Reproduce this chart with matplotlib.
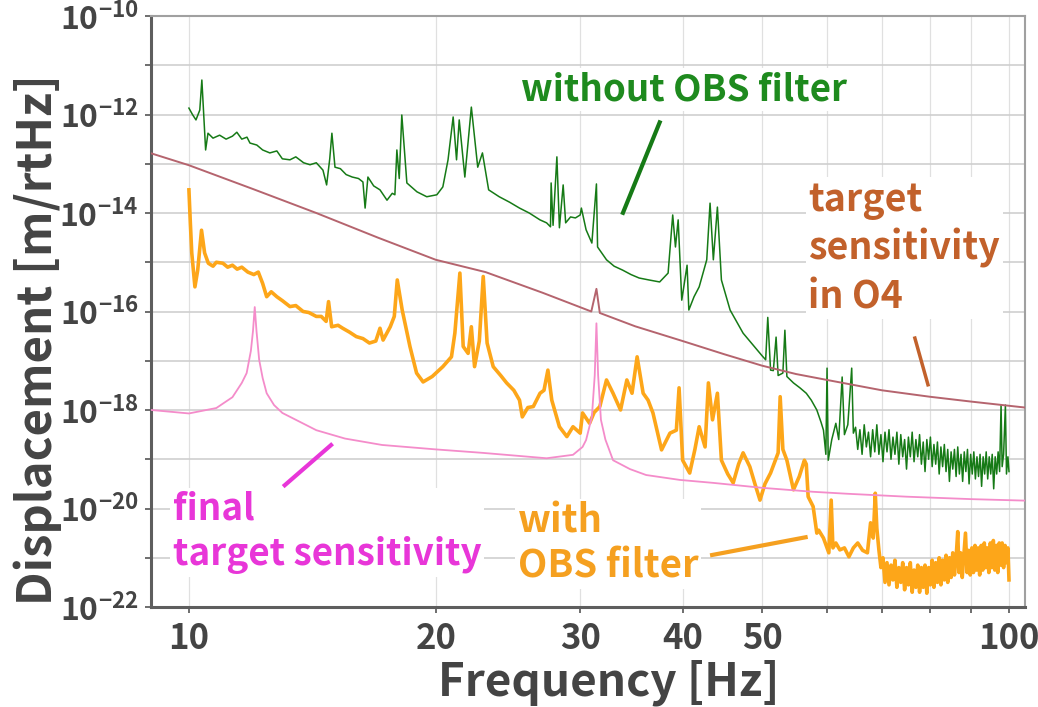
import numpy as np
import matplotlib
matplotlib.use("Agg")
import matplotlib.pyplot as plt
from matplotlib.ticker import FixedLocator, FuncFormatter, NullLocator

plt.rcParams['font.family'] = ['Noto Sans CJK JP', 'DejaVu Sans']
plt.rcParams['mathtext.fontset'] = 'custom'
plt.rcParams['mathtext.rm'] = 'Noto Sans CJK JP'
plt.rcParams['mathtext.bf'] = 'Noto Sans CJK JP:bold'
plt.rcParams['axes.unicode_minus'] = False

# (frequency [Hz], log10 displacement [m/rtHz])
without_obs = [
    (10.0, -11.87), (10.1, -12.0), (10.2, -12.11), (10.31, -11.91), (10.37, -11.30),
    (10.48, -12.72), (10.55, -12.38), (10.7, -12.48), (10.9, -12.42), (11.1, -12.5),
    (11.3, -12.44), (11.44, -12.36), (11.6, -12.5), (11.77, -12.46), (11.87, -12.58),
    (12.1, -12.62), (12.3, -12.72), (12.55, -12.78), (12.8, -12.74), (13.0, -12.9),
    (13.28, -12.92), (13.5, -12.86), (13.8, -12.98), (14.05, -13.02), (14.3, -12.98),
    (14.57, -13.13), (14.72, -13.43), (14.85, -12.9), (14.94, -12.38), (15.07, -13.07),
    (15.3, -13.1), (15.55, -13.22), (15.82, -13.27), (16.1, -13.3), (16.3, -13.37),
    (16.4, -13.9), (16.53, -13.27), (16.8, -13.45), (17.1, -13.53), (17.44, -13.74),
    (17.7, -13.6), (17.83, -13.63), (17.93, -12.72), (18.05, -13.3), (18.18, -12.01),
    (18.44, -13.39), (18.97, -13.57), (19.5, -13.67), (20.06, -13.63), (20.4, -13.47),
    (20.7, -12.92), (21.0, -12.05), (21.2, -12.92), (21.36, -12.11), (21.7, -13.27),
    (22.1, -11.85), (22.5, -13.07), (22.8, -12.78), (23.2, -13.53), (23.9, -13.67),
    (24.6, -13.78), (25.3, -13.9), (26.0, -14.0), (26.8, -14.14), (27.3, -14.2),
    (27.6, -14.28), (27.65, -13.39), (27.8, -14.25), (28.1, -12.86), (28.3, -14.3),
    (28.6, -13.43), (28.8, -14.2), (29.2, -14.08), (29.6, -14.1), (30.0, -14.04),
    (30.1, -13.9), (30.5, -14.34), (31.0, -14.61), (31.4, -13.41), (31.5, -14.69),
    (32.3, -14.95), (33.0, -15.08), (33.8, -15.16), (34.6, -15.25), (35.4, -15.32),
    (36.4, -15.36), (37.5, -15.4), (38.4, -15.22), (38.9, -14.04), (39.2, -14.69),
    (39.5, -14.14), (39.9, -15.77), (40.5, -15.06), (40.7, -15.97), (41.3, -15.7),
    (41.9, -15.5), (42.8, -14.95), (43.2, -13.8), (43.6, -14.95), (44.1, -13.88),
    (44.6, -15.36), (45.7, -15.97), (47.4, -16.44), (49.3, -16.78), (50.0, -16.9),
    (50.5, -16.98), (50.8, -16.12), (51.2, -17.19), (51.6, -17.2), (52.0, -16.52),
    (52.3, -17.3), (53.0, -17.25), (53.3, -16.38), (53.6, -17.32), (54.6, -17.45),
    (55.6, -17.55), (56.6, -17.66), (57.4, -17.8), (58.3, -18.0), (59.0, -18.25),
    (59.4, -18.41), (59.8, -18.9), (60.0, -17.15), (60.2, -19.02), (60.8, -18.6),
    (61.5, -18.27), (62.0, -18.6), (62.6, -17.33), (63.0, -18.5), (63.6, -18.3),
    (64.3, -17.15), (64.6, -18.47), (65.0, -18.35), (65.4, -18.8), (65.8, -18.4),
    (66.2, -18.9), (66.6, -18.3), (67.0, -18.75), (67.4, -18.45), (67.8, -18.95),
    (68.2, -18.4), (68.6, -18.85), (69.0, -18.3), (69.4, -18.9), (69.8, -18.5),
    (70.2, -19.05), (70.6, -18.45), (71.0, -18.85), (71.4, -18.4), (71.8, -19.0),
    (72.2, -18.55), (72.6, -18.9), (73.0, -18.45), (73.4, -19.1), (73.8, -18.5),
    (74.2, -18.95), (74.6, -18.6), (75.0, -19.2), (75.4, -18.55), (75.8, -18.95),
    (76.2, -18.45), (76.6, -19.05), (77.0, -18.6), (77.4, -18.95), (77.8, -18.5),
    (78.2, -19.1), (78.6, -18.65), (79.0, -19.25), (79.4, -18.6), (79.8, -19.0),
    (80.2, -18.55), (80.6, -19.15), (81.0, -18.7), (81.4, -19.1), (81.8, -18.65),
    (82.2, -19.3), (82.6, -18.75), (83.0, -19.15), (83.4, -18.7), (83.8, -19.25),
    (84.2, -18.8), (84.6, -19.45), (85.0, -18.85), (85.4, -19.2), (85.8, -18.8),
    (86.2, -19.35), (86.6, -18.75), (87.0, -19.3), (87.4, -18.9), (87.8, -19.45),
    (88.2, -18.85), (88.6, -19.25), (89.0, -18.8), (89.4, -19.5), (89.8, -18.9),
    (90.2, -19.3), (90.6, -18.85), (91.0, -19.4), (91.4, -18.95), (91.8, -19.35),
    (92.2, -18.9), (92.6, -19.55), (93.0, -18.95), (93.4, -19.3), (93.8, -18.85),
    (94.2, -19.4), (94.6, -18.95), (95.0, -19.3), (95.4, -18.9), (95.8, -19.6),
    (96.2, -18.95), (96.6, -19.3), (97.0, -18.85), (97.4, -19.25), (97.8, -17.9),
    (98.1, -19.15), (98.5, -18.9), (99.0, -17.9), (99.3, -19.3), (99.7, -18.95),
    (100.0, -19.25),
]

with_obs = [
    (10.0, -13.53), (10.04, -14.2), (10.08, -14.81), (10.17, -15.5), (10.25, -15.16),
    (10.36, -14.35), (10.45, -14.81), (10.56, -15.02), (10.7, -15.08), (10.8, -15.0),
    (11.0, -15.02), (11.15, -15.1), (11.3, -15.06), (11.45, -15.14), (11.6, -15.1),
    (11.8, -15.2), (12.0, -15.25), (12.15, -15.2), (12.3, -15.43), (12.44, -15.7),
    (12.6, -15.6), (12.8, -15.7), (13.0, -15.78), (13.28, -15.9), (13.5, -15.88),
    (13.78, -16.0), (14.0, -16.02), (14.3, -16.1), (14.5, -16.1), (14.7, -16.2),
    (14.8, -15.8), (14.93, -16.31), (15.2, -16.28), (15.4, -16.34), (15.7, -16.42),
    (16.0, -16.51), (16.3, -16.55), (16.6, -16.64), (16.9, -16.6), (17.1, -16.34),
    (17.25, -16.58), (17.6, -16.31), (17.8, -16.1), (17.95, -15.36), (18.2, -15.97),
    (18.6, -16.71), (18.95, -17.25), (19.3, -17.43), (19.8, -17.32), (20.4, -17.12),
    (20.9, -16.92), (21.1, -16.44), (21.4, -15.22), (21.6, -16.71), (21.9, -16.85),
    (22.1, -16.31), (22.3, -17.12), (22.6, -16.6), (22.85, -15.29), (23.1, -16.64),
    (23.5, -17.12), (24.0, -17.3), (24.4, -17.45), (24.9, -17.6), (25.3, -17.8),
    (25.5, -18.14), (25.9, -17.95), (26.3, -17.93), (26.8, -17.66), (27.1, -17.6),
    (27.4, -17.19), (27.7, -17.8), (28.3, -18.34), (28.9, -18.54), (29.4, -18.34),
    (30.0, -18.47), (30.2, -18.06), (30.8, -18.27), (31.2, -18.05), (31.7, -17.93),
    (32.3, -17.39), (32.9, -17.66), (33.6, -18.0), (34.2, -17.39), (34.7, -17.66),
    (35.2, -16.92), (35.8, -17.66), (36.3, -17.8), (36.8, -18.06), (37.7, -18.81),
    (38.6, -18.47), (39.3, -18.41), (39.6, -17.55), (40.0, -19.02), (40.8, -19.28),
    (41.4, -18.8), (41.9, -18.34), (42.6, -18.75), (43.0, -17.45), (43.5, -18.2),
    (44.1, -17.66), (44.6, -19.02), (45.4, -19.3), (46.1, -19.48), (46.8, -19.1),
    (47.4, -18.87), (48.3, -19.15), (49.0, -19.5), (49.7, -19.83), (50.4, -19.5),
    (51.2, -19.28), (52.3, -18.87), (52.6, -17.73), (53.0, -18.8), (53.6, -19.02),
    (54.6, -19.62), (55.5, -19.35), (56.3, -19.02), (56.6, -19.1), (56.9, -19.76),
    (57.7, -19.96), (58.3, -20.5), (58.6, -20.44), (59.4, -20.6), (60.3, -20.9),
    (60.7, -19.83), (61.0, -20.8), (61.5, -20.7), (62.2, -20.84), (63.0, -20.8),
    (63.8, -20.98), (64.6, -20.8), (65.4, -20.7), (66.3, -20.85), (67.2, -20.9),
    (67.8, -20.29), (68.3, -20.6), (68.7, -19.69), (69.0, -20.4), (69.4, -20.84),
    (69.8, -21.2), (70.2, -21.0), (70.6, -21.5), (71.0, -21.1), (71.4, -21.55),
    (71.8, -21.15), (72.2, -21.45), (72.6, -21.05), (73.0, -21.6), (73.4, -21.2),
    (73.8, -21.5), (74.2, -21.1), (74.6, -21.65), (75.0, -21.2), (75.4, -21.55),
    (75.8, -21.1), (76.2, -21.7), (76.6, -21.25), (77.0, -21.6), (77.4, -21.15),
    (77.8, -21.7), (78.2, -21.2), (78.6, -21.6), (79.0, -21.15), (79.4, -21.72),
    (79.8, -21.2), (80.2, -21.55), (80.6, -21.05), (81.0, -21.6), (81.4, -21.1),
    (81.8, -21.5), (82.2, -21.0), (82.6, -21.55), (83.0, -21.05), (83.4, -21.45),
    (83.8, -20.95), (84.2, -21.5), (84.6, -21.0), (85.0, -21.4), (85.4, -20.9),
    (85.8, -21.35), (86.2, -21.0), (86.6, -20.47), (86.9, -21.3), (87.3, -20.9),
    (87.7, -21.4), (88.1, -20.95), (88.5, -20.5), (88.9, -21.3), (89.3, -20.85),
    (89.7, -21.35), (90.1, -20.8), (90.5, -21.3), (90.9, -20.75), (91.3, -21.25),
    (91.7, -20.8), (92.1, -21.35), (92.5, -20.75), (92.9, -21.25), (93.3, -20.7),
    (93.7, -21.2), (94.1, -20.8), (94.5, -21.3), (94.9, -20.7), (95.3, -21.2),
    (95.7, -20.65), (96.1, -21.25), (96.5, -20.75), (96.9, -21.3), (97.3, -20.7),
    (97.7, -21.15), (98.1, -20.7), (98.5, -21.2), (98.9, -20.75), (99.3, -21.1),
    (99.7, -20.8), (100.0, -21.45),
]

target_o4 = [
    (9.0, -12.79), (10.0, -13.03), (12.0, -13.52), (14.3, -14.0), (17.0, -14.5),
    (20.0, -14.95), (23.0, -15.2), (27.0, -15.62), (30.95, -16.0), (31.4, -15.54),
    (31.7, -16.03), (35.0, -16.3), (40.0, -16.6), (45.0, -16.87), (50.0, -17.1),
    (55.0, -17.27), (60.0, -17.39), (70.0, -17.6), (80.0, -17.73), (90.0, -17.83),
    (104.6, -17.95),
]

target_final = [
    (9.0, -18.0), (10.0, -18.07), (10.8, -17.96), (11.3, -17.74), (11.6, -17.45),
    (11.76, -17.25), (11.9, -16.8), (11.97, -16.4), (12.03, -15.91), (12.09, -16.4),
    (12.18, -16.98), (12.3, -17.35), (12.44, -17.66), (12.7, -17.9), (13.0, -18.06),
    (14.3, -18.41), (15.5, -18.58), (17.2, -18.71), (20.0, -18.8), (22.8, -18.87),
    (27.3, -18.98), (29.4, -18.91), (30.2, -18.75), (30.5, -18.61), (31.0, -18.14),
    (31.25, -17.3), (31.4, -16.24), (31.55, -17.3), (31.8, -18.2), (32.2, -18.6),
    (32.9, -19.02), (34.5, -19.2), (36.1, -19.32), (39.7, -19.42), (43.6, -19.48),
    (50.0, -19.58), (57.6, -19.66), (63.4, -19.7), (75.0, -19.76), (90.0, -19.81),
    (104.6, -19.84),
]

x_ticks = [10, 20, 30, 40, 50, 60, 70, 80, 90, 100]
x_labeled = [10, 20, 30, 40, 50, 100]
y_exponents = list(range(-22, -9))


def unpack(pairs):
    f, lg = zip(*pairs)
    return np.array(f), 10.0 ** np.array(lg)


fig = plt.figure(figsize=(10.38, 7.07), dpi=100)
ax = fig.add_axes([151 / 1038, 1 - 607 / 707, 874 / 1038, 591 / 707])
ax.set_xscale('log')
ax.set_yscale('log')
ax.set_xlim(8.99, 104.6)
ax.set_ylim(1e-22, 1e-10)

f, v = unpack(without_obs)
ax.plot(f, v, color='#167a16', lw=1.1, zorder=3)
f, v = unpack(with_obs)
ax.plot(f, v, color='#fda619', lw=2.6, zorder=3)
f, v = unpack(target_final)
ax.plot(f, v, color='#f48cca', lw=1.3, zorder=4)
f, v = unpack(target_o4)
ax.plot(f, v, color='#b5646e', lw=1.4, zorder=4)

# axes styling
ax.xaxis.set_major_locator(FixedLocator(x_ticks))
ax.xaxis.set_minor_locator(NullLocator())
ax.xaxis.set_major_formatter(FuncFormatter(
    lambda x, pos: f'{int(round(x))}' if int(round(x)) in x_labeled else ''))
ax.yaxis.set_major_locator(FixedLocator([10.0 ** e for e in y_exponents]))
ax.yaxis.set_minor_locator(NullLocator())
ax.yaxis.set_major_formatter(FuncFormatter(
    lambda y, pos: r'$\mathbf{10^{%d}}$' % round(np.log10(y)) if round(np.log10(y)) % 2 == 0 else ''))

ax.grid(True, axis='y', color='#cfcfcf', lw=1.2, zorder=0)
ax.grid(True, axis='x', color='#e0e0e0', lw=0.9, zorder=0)
ax.set_axisbelow(True)
ax.tick_params(axis='both', direction='out', length=4, width=1.2, colors='#555555')
ax.tick_params(axis='x', labelsize=25, pad=6, labelcolor='#444444')
ax.tick_params(axis='y', labelsize=23, pad=5, labelcolor='#444444')
for lbl in ax.get_xticklabels():
    lbl.set_fontweight('bold')
for side in ['left', 'bottom']:
    ax.spines[side].set_color('#5e5e5e')
    ax.spines[side].set_linewidth(2.2)
for side in ['top', 'right']:
    ax.spines[side].set_color('#a0a0a0')
    ax.spines[side].set_linewidth(1.5)

ax.text(0.524, -0.128, 'Frequency [Hz]', transform=ax.transAxes, ha='center', va='center',
        fontsize=33, fontweight='bold', color='#444444')
ax.text(-0.130, 0.452, 'Displacement [m/rtHz]', transform=ax.transAxes, ha='center',
        va='center', rotation=90, fontsize=34, fontweight='bold', color='#444444')

# annotations
box = dict(facecolor='white', edgecolor='none', pad=2)
ax.text(0.610, 0.875, 'without OBS filter', transform=ax.transAxes, ha='center', va='center',
        fontsize=26.5, fontweight='bold', color='#1e8a1e', bbox=box, zorder=6)
ax.plot([0.582, 0.540], [0.820, 0.667], transform=ax.transAxes, color='#167a16', lw=3,
        zorder=6)
ax.text(0.752, 0.607, 'target\nsensitivity\nin O4', transform=ax.transAxes, ha='left',
        va='center', fontsize=27, fontweight='bold', color='#c2612b', linespacing=1.28,
        bbox=box, zorder=6)
ax.plot([0.874, 0.889], [0.455, 0.376], transform=ax.transAxes, color='#c2612b', lw=2.5,
        zorder=6)
ax.text(0.025, 0.127, 'final\ntarget sensitivity', transform=ax.transAxes, ha='left',
        va='center', fontsize=26.5, fontweight='bold', color='#e836d8', linespacing=1.3,
        bbox=box, zorder=6)
ax.plot([0.153, 0.206], [0.206, 0.274], transform=ax.transAxes, color='#e836d8', lw=3,
        zorder=6)
ax.text(0.420, 0.107, 'with\nOBS filter', transform=ax.transAxes, ha='left', va='center',
        fontsize=27.5, fontweight='bold', color='#f5a020', linespacing=1.2, bbox=box, zorder=6)
ax.plot([0.642, 0.749], [0.088, 0.118], transform=ax.transAxes, color='#f5a020', lw=3,
        zorder=6)

fig.savefig('out.png', dpi=100)
